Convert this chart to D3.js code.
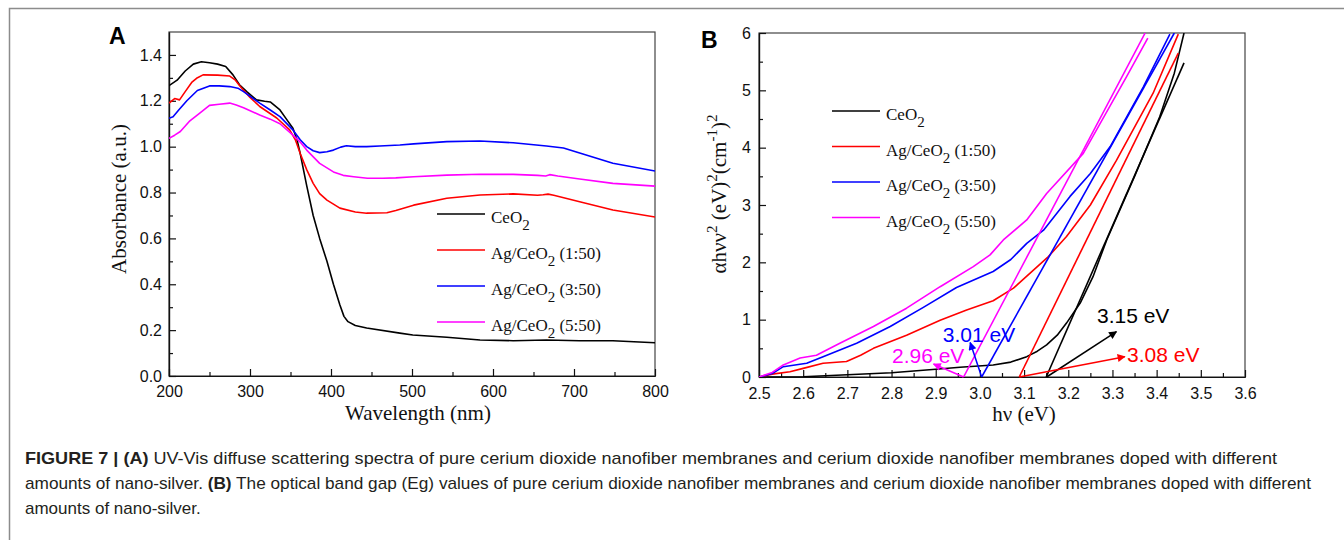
<!DOCTYPE html>
<meta charset="utf-8">
<body style="margin:0;background:#fff">
<script src="https://cdn.jsdelivr.net/npm/d3@7"></script>
<script>

    var width = 1344,
        height = 540;

    // series shared by both panels
    var legendMain = ["CeO", "Ag/CeO", "Ag/CeO", "Ag/CeO"];
    var legendSuffix = ["", " (1:50)", " (3:50)", " (5:50)"];
    var seriesColors = ["#000000", "#ff0000", "#0000ff", "#ff00ff"];

    // panel A : wavelength (nm), absorbance (a.u.)
    var absCeO2 = [[200,1.266],[210,1.29],[220,1.33],[230,1.36],[240,1.37],[250,1.366],[260,1.36],[270,1.35],
        [279,1.313],[287,1.27],[296,1.24],[308,1.204],[318,1.198],[325,1.195],[337,1.16],[345,1.12],[353,1.08],
        [358,1.03],[362,0.97],[370,0.83],[378,0.70],[386,0.60],[395,0.50],[403,0.40],[411,0.31],[416,0.26],
        [421,0.237],[430,0.22],[444,0.209],[485,0.187],[501,0.179],[543,0.169],[584,0.157],[625,0.154],
        [666,0.157],[707,0.154],[748,0.154],[800,0.145]];
    var absAg1 = [[200,1.19],[207,1.21],[213,1.204],[220,1.24],[228,1.28],[234,1.298],[242,1.313],[260,1.312],
        [275,1.308],[282,1.29],[288,1.262],[300,1.215],[312,1.175],[333,1.125],[349,1.073],[356,1.03],[362,0.97],
        [370,0.90],[378,0.84],[386,0.795],[395,0.767],[411,0.732],[430,0.715],[444,0.71],[469,0.712],[480,0.722],
        [502,0.745],[543,0.775],[584,0.789],[625,0.794],[655,0.788],[662,0.79],[668,0.793],[675,0.788],
        [707,0.76],[748,0.724],[800,0.693]];
    var absAg3 = [[200,1.124],[205,1.13],[212,1.16],[222,1.20],[235,1.245],[250,1.265],[262,1.265],[275,1.262],
        [285,1.255],[292,1.24],[302,1.215],[312,1.19],[325,1.16],[337,1.131],[353,1.073],[362,1.03],[370,1.0],
        [378,0.982],[386,0.974],[395,0.978],[403,0.985],[412,0.998],[419,1.004],[430,1.0],[444,1.0],[460,1.003],
        [485,1.007],[502,1.012],[543,1.022],[584,1.025],[625,1.017],[666,1.003],[687,0.994],[707,0.972],
        [748,0.928],[800,0.894]];
    var absAg5 = [[200,1.036],[207,1.05],[214,1.066],[225,1.11],[238,1.146],[250,1.18],[262,1.185],[275,1.19],
        [283,1.182],[292,1.17],[312,1.138],[325,1.12],[337,1.10],[353,1.05],[362,1.02],[370,0.985],[386,0.927],
        [403,0.89],[415,0.875],[428,0.869],[445,0.862],[464,0.862],[480,0.864],[502,0.869],[543,0.876],
        [584,0.88],[625,0.879],[655,0.875],[665,0.872],[670,0.878],[680,0.872],[707,0.859],[748,0.84],
        [800,0.828]];

    // panel B : photon energy (eV), (alpha h nu)^2
    var tcCeO2 = [[2.5,0],[2.6,0.005],[2.7,0.04],[2.8,0.075],[2.9,0.135],[2.955,0.17],[3.03,0.21],[3.07,0.26],
        [3.106,0.355],[3.13,0.45],[3.151,0.56],[3.175,0.73],[3.196,0.94],[3.227,1.29],[3.256,1.75],[3.287,2.39],
        [3.35,3.5],[3.407,4.54],[3.44,5.3],[3.462,6.0]];
    var tcAg1 = [[2.5,0],[2.53,0.05],[2.57,0.093],[2.6,0.15],[2.645,0.24],[2.698,0.27],[2.73,0.38],[2.759,0.5],
        [2.834,0.73],[2.91,0.99],[2.97,1.17],[3.03,1.33],[3.076,1.55],[3.155,2.10],[3.196,2.45],[3.25,3.0],
        [3.309,3.78],[3.392,4.95],[3.449,5.98]];
    var tcAg3 = [[2.5,0],[2.53,0.06],[2.555,0.18],[2.608,0.24],[2.645,0.355],[2.721,0.59],[2.797,0.88],
        [2.872,1.215],[2.947,1.56],[3.03,1.84],[3.07,2.05],[3.106,2.33],[3.144,2.56],[3.204,3.15],[3.25,3.55],
        [3.295,4.02],[3.37,5.06],[3.43,5.98]];
    var tcAg5 = [[2.5,0],[2.53,0.08],[2.555,0.21],[2.593,0.33],[2.63,0.38],[2.683,0.59],[2.759,0.88],[2.834,1.2],
        [2.91,1.575],[2.985,1.925],[3.023,2.13],[3.053,2.39],[3.106,2.74],[3.151,3.2],[3.234,3.9],[3.332,5.24],
        [3.38,5.91]];

    // linear fits, arrows and band gap labels (black, red, blue, magenta)
    var fitLines = [[[3.15,0],[3.462,5.48]], [[3.089,0],[3.449,5.65]], [[3.004,0],[3.44,6.0]], [[2.963,0],[3.374,6.0]]];
    var gapArrows = [[[3.151,0],[3.309,0.79]], [[3.089,0],[3.328,0.355]], [[3.004,0],[2.978,0.6]], [[2.963,0],[2.895,0.227]]];
    var gapLabels = ["3.15 eV", "3.08 eV", "3.01 eV", "2.96 eV"];
    var gapLabelPos = [[3.265,0.937], [3.333,0.267], [2.916,0.605], [2.801,0.239]];

    var captionLines = [
        [["FIGURE 7 | (A)", true], [" UV-Vis diffuse scattering spectra of pure cerium dioxide nanofiber membranes and cerium dioxide nanofiber membranes doped with different", false]],
        [["amounts of nano-silver. ", false], ["(B)", true], [" The optical band gap (Eg) values of pure cerium dioxide nanofiber membranes and cerium dioxide nanofiber membranes doped with different", false]],
        [["amounts of nano-silver.", false]]
    ];

    var svg = d3.select("body").append("svg")
            .attr("width", width)
            .attr("height", height)
            .style("display", "block");

    svg.append("rect").attr("width", width).attr("height", height).attr("fill", "#fff");

    // figure frame
    svg.append("path")
            .attr("d", "M9.5,540V8.5H1344")
            .attr("fill", "none")
            .attr("stroke", "#8c8c8c")
            .attr("stroke-width", 1.5);

    var defs = svg.append("defs");
    seriesColors.forEach(function(c, i) {
        defs.append("marker")
                .attr("id", "arrow" + i)
                .attr("viewBox", "0 0 10 10")
                .attr("refX", 9).attr("refY", 5)
                .attr("markerUnits", "userSpaceOnUse")
                .attr("markerWidth", 11).attr("markerHeight", 8)
                .attr("orient", "auto")
                .append("path")
                .attr("d", "M0,0L10,5L0,10z")
                .attr("fill", c);
    });

    function panel(cfg) {
        var g = svg.append("g");
        var x = d3.scaleLinear().domain(cfg.xDomain).range([cfg.left, cfg.right]);
        var y = d3.scaleLinear().domain(cfg.yDomain).range([cfg.bottom, cfg.top]);

        defs.append("clipPath").attr("id", cfg.id)
                .append("rect")
                .attr("x", cfg.left).attr("y", cfg.top)
                .attr("width", cfg.right - cfg.left).attr("height", cfg.bottom - cfg.top);

        g.append("rect")
                .attr("x", cfg.left).attr("y", cfg.top)
                .attr("width", cfg.right - cfg.left).attr("height", cfg.bottom - cfg.top)
                .attr("fill", "none").attr("stroke", "#444").attr("stroke-width", 1.2);

        // minor ticks
        g.append("g").attr("transform", "translate(0," + cfg.bottom + ")")
                .call(d3.axisBottom(x).tickValues(cfg.xMinor).tickSizeInner(-4).tickSizeOuter(0).tickFormat(""));
        g.append("g").attr("transform", "translate(" + cfg.left + ",0)")
                .call(d3.axisLeft(y).tickValues(cfg.yMinor).tickSizeInner(-4).tickSizeOuter(0).tickFormat(""));

        var xa = g.append("g").attr("transform", "translate(0," + cfg.bottom + ")")
                .call(d3.axisBottom(x).tickValues(cfg.xTicks).tickSizeInner(-7).tickSizeOuter(0)
                        .tickPadding(cfg.xPad).tickFormat(d3.format(cfg.xFmt)));
        var ya = g.append("g").attr("transform", "translate(" + cfg.left + ",0)")
                .call(d3.axisLeft(y).tickValues(cfg.yTicks).tickSizeInner(-7).tickSizeOuter(0)
                        .tickPadding(cfg.yPad).tickFormat(d3.format(cfg.yFmt)));
        [xa, ya].forEach(function(a) {
            a.attr("font-family", "'Liberation Sans', Arial, sans-serif").attr("font-size", 16);
            a.selectAll("text").attr("fill", "#111");
        });
        g.selectAll(".domain, .tick line").attr("stroke", "#111").attr("stroke-width", 1.2);

        var plot = g.append("g").attr("clip-path", "url(#" + cfg.id + ")");
        var line = d3.line().x(function(d) { return x(d[0]); }).y(function(d) { return y(d[1]); });
        cfg.series.forEach(function(s, i) {
            plot.append("path").datum(s)
                    .attr("d", line)
                    .attr("fill", "none")
                    .attr("stroke", seriesColors[i])
                    .attr("stroke-width", 1.6)
                    .attr("stroke-linejoin", "round");
        });

        // legend
        var lg = g.append("g").attr("font-family", "'Liberation Serif', 'Times New Roman', serif").attr("font-size", 17);
        seriesColors.forEach(function(c, i) {
            var ly = cfg.legendY + i * cfg.legendStep;
            lg.append("line")
                    .attr("x1", cfg.legendX).attr("x2", cfg.legendX + 48)
                    .attr("y1", ly).attr("y2", ly)
                    .attr("stroke", c).attr("stroke-width", 1.6);
            var t = lg.append("text").attr("x", cfg.legendX + 54).attr("y", ly + 9).attr("fill", "#111");
            t.append("tspan").text(legendMain[i]);
            t.append("tspan").attr("dy", 7).attr("font-size", 15).text("2");
            t.append("tspan").attr("dy", -7).text(legendSuffix[i]);
        });

        // panel letter
        g.append("text")
                .attr("x", cfg.letterX).attr("y", cfg.letterY)
                .attr("font-family", "'Liberation Sans', Arial, sans-serif")
                .attr("font-weight", "bold").attr("font-size", 23)
                .text(cfg.letter);

        g.append("text")
                .attr("x", cfg.xTitleX).attr("y", cfg.xTitleY)
                .attr("text-anchor", "middle")
                .attr("font-family", "'Liberation Serif', 'Times New Roman', serif")
                .attr("font-size", 21).attr("fill", "#111")
                .text(cfg.xTitle);

        return {g: g, plot: plot, x: x, y: y};
    }

    var pa = panel({
        id: "clipA", letter: "A", letterX: 109, letterY: 44,
        left: 169, right: 655, top: 32, bottom: 376,
        xDomain: [200, 800], yDomain: [0, 1.5],
        xTicks: d3.range(200, 801, 100), xMinor: d3.range(250, 800, 100),
        yTicks: d3.range(0, 8).map(function(i) { return i * 0.2; }),
        yMinor: d3.range(0, 7).map(function(i) { return 0.1 + i * 0.2; }),
        xFmt: "d", yFmt: ".1f", xPad: 10, yPad: 7,
        series: [absCeO2, absAg1, absAg3, absAg5],
        legendX: 437, legendY: 214, legendStep: 36,
        xTitle: "Wavelength (nm)", xTitleX: 418, xTitleY: 420
    });

    pa.g.append("text")
            .attr("transform", "translate(126,199)rotate(-90)")
            .attr("text-anchor", "middle")
            .attr("font-family", "'Liberation Serif', 'Times New Roman', serif")
            .attr("font-size", 21).attr("fill", "#111")
            .text("Absorbance (a.u.)");

    var pb = panel({
        id: "clipB", letter: "B", letterX: 701, letterY: 48,
        left: 759, right: 1245, top: 33, bottom: 377,
        xDomain: [2.5, 3.6], yDomain: [0, 6],
        xTicks: d3.range(0, 12).map(function(i) { return 2.5 + i * 0.1; }),
        xMinor: d3.range(0, 11).map(function(i) { return 2.55 + i * 0.1; }),
        yTicks: d3.range(0, 7), yMinor: d3.range(0, 6).map(function(i) { return 0.5 + i; }),
        xFmt: ".1f", yFmt: "d", xPad: 11, yPad: 8,
        series: [tcCeO2, tcAg1, tcAg3, tcAg5],
        legendX: 832, legendY: 111, legendStep: 35.5,
        xTitle: "h\u03bd (eV)", xTitleX: 1024, xTitleY: 421
    });

    // y title of panel B with superscripts
    var yt = pb.g.append("text")
            .attr("transform", "translate(726,194)rotate(-90)")
            .attr("text-anchor", "middle")
            .attr("font-family", "'Liberation Serif', 'Times New Roman', serif")
            .attr("font-size", 21).attr("fill", "#111");
    [["\u03b1h\u03bd\u03bd", 0], ["2", 1], [" (eV)", 0], ["2", 1], ["(cm", 0], ["-1", 1], [")", 0], ["2", 1]]
            .forEach(function(p, i, arr) {
                var prev = i > 0 ? arr[i - 1][1] : 0;
                var ts = yt.append("tspan").text(p[0]);
                if (p[1] && !prev) ts.attr("dy", -9).attr("font-size", 15);
                else if (p[1]) ts.attr("font-size", 15);
                else if (prev) ts.attr("dy", 9);
            });

    // fitted lines and band gap arrows
    var lineB = d3.line().x(function(d) { return pb.x(d[0]); }).y(function(d) { return pb.y(d[1]); });
    fitLines.forEach(function(f, i) {
        pb.plot.append("path").datum(f).attr("d", lineB)
                .attr("stroke", seriesColors[i]).attr("stroke-width", 1.6).attr("fill", "none");
    });
    gapArrows.forEach(function(a, i) {
        pb.g.append("path").datum(a).attr("d", lineB)
                .attr("stroke", seriesColors[i]).attr("stroke-width", 1.5).attr("fill", "none")
                .attr("marker-end", "url(#arrow" + i + ")");
    });
    gapLabels.forEach(function(t, i) {
        pb.g.append("text")
                .attr("x", pb.x(gapLabelPos[i][0])).attr("y", pb.y(gapLabelPos[i][1]))
                .attr("font-family", "'Liberation Sans', Arial, sans-serif")
                .attr("font-size", 21).attr("fill", seriesColors[i])
                .text(t);
    });

    // caption
    var capLens = [1252, 1286, null];
    captionLines.forEach(function(parts, i) {
        var t = svg.append("text")
                .attr("x", 25).attr("y", 464 + i * 25)
                .attr("font-family", "'Liberation Sans', Arial, sans-serif")
                .attr("font-size", 17).attr("fill", "#231f20");
        if (capLens[i]) t.attr("textLength", capLens[i]).attr("lengthAdjust", "spacingAndGlyphs");
        parts.forEach(function(p) {
            t.append("tspan").attr("font-weight", p[1] ? "bold" : "normal").text(p[0]);
        });
    });

</script>
